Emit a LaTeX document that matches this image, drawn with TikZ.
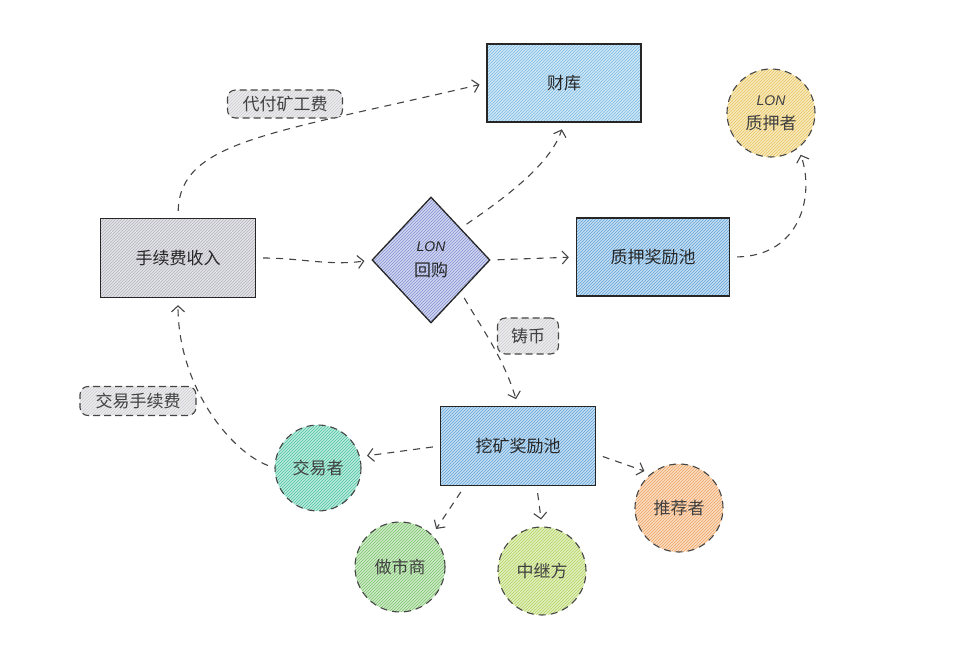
\documentclass[tikz,border=0pt]{standalone}
\usepackage{fontspec}
\setmainfont{Noto Sans CJK SC}
\newfontfamily\lonfont{Liberation Sans}
\usetikzlibrary{shapes.geometric,patterns,arrows.meta}

\definecolor{inkgray}{HTML}{454545}
\definecolor{feegray}{HTML}{B4B4C0}
\definecolor{taggray}{HTML}{CDCDD2}
\definecolor{vaultblue}{HTML}{7DBCE6}
\definecolor{buyblue}{HTML}{8490D4}
\definecolor{poolblue}{HTML}{62A6DA}
\definecolor{stakeyellow}{HTML}{EAC55C}
\definecolor{tradeteal}{HTML}{4CC6A4}
\definecolor{makergreen}{HTML}{7CC66C}
\definecolor{relaylime}{HTML}{B2D45C}
\definecolor{referorange}{HTML}{F0A460}

\newcommand{\lontext}{{\lonfont\itshape\fontsize{14}{16}\selectfont LON}}

\begin{document}
\begin{tikzpicture}[x=1pt,y=1pt,
  hatch/.style={preaction={fill=#1!38}, pattern=north east lines, pattern color=#1},
  box/.style={draw=black!85, line width=1.3pt, minimum width=155pt, minimum height=79pt,
    text=black!85, font=\fontsize{17}{20}\selectfont},
  role/.style={circle, draw=inkgray, line width=1.1pt, dash pattern=on 7pt off 5pt,
    minimum size=88pt, inner sep=0pt, text=black!75, font=\fontsize{17}{24}\selectfont, align=center},
  tag/.style={draw=inkgray, line width=1.1pt, dash pattern=on 7pt off 4pt, rounded corners=8pt,
    hatch=taggray, inner sep=0pt, text=black!75, font=\fontsize{17}{20}\selectfont},
  flow/.style={draw=inkgray, line width=1.1pt, dash pattern=on 7pt off 6pt,
    -{Straight Barb[length=6pt,width=13pt,line width=1.1pt]}, shorten <=7pt, shorten >=7pt}
]
\useasboundingbox (0,0) rectangle (960,656);

% boxes and the buyback diamond
\node[box, hatch=feegray] (fee) at (178,398) {手续费收入};
\node[box, hatch=vaultblue, minimum width=154pt, minimum height=78pt] (vault) at (564,573) {财库};
\node[diamond, draw=black!85, line width=1.3pt, hatch=buyblue, minimum width=118pt, minimum height=126pt,
  inner sep=0pt, align=center, text=black!85, font=\fontsize{17}{25}\selectfont] (buyback) at (431,396)
  {\lontext\\回购};
\node[box, hatch=poolblue, minimum width=153pt, minimum height=78pt] (stakepool) at (653,399) {质押奖励池};
\node[box, hatch=poolblue] (minepool) at (518,210) {挖矿奖励池};

% dashed circles
\node[role, hatch=stakeyellow] (staker) at (771,543) {\lontext\\质押者};
\node[role, hatch=tradeteal, minimum size=86pt] (trader) at (318,188) {交易者};
\node[role, hatch=makergreen, minimum size=90pt] (maker) at (400,89) {做市商};
\node[role, hatch=relaylime] (relayer) at (542,85) {中继方};
\node[role, hatch=referorange] (referrer) at (679,148) {推荐者};

% connectors
\draw[flow] (fee.north) .. controls (180,515) and (270,522) .. (vault.west);
\draw[flow] (fee.east) .. controls (300,398) and (330,390) .. (buyback.west);
\draw[flow] (buyback.north east) .. controls (500,455) and (550,490) .. (vault.south);
\draw[flow] (buyback.east) -- (stakepool.west);
\draw[flow] (stakepool.east) .. controls (800,400) and (815,460) .. (staker.-52);
\draw[flow] (buyback.south east) .. controls (480,330) and (503,300) .. (minepool.north);
\draw[flow] (minepool.west) -- (trader.15);
\draw[flow] (trader.west) .. controls (230,205) and (178,270) .. (fee.south);
\draw[flow] (minepool.-143) -- (maker.45);
\draw[flow] (minepool.-65) -- (relayer.north);
\draw[flow] (minepool.-6) -- (referrer.129);

% labels on the connectors
\node[tag, minimum width=115pt, minimum height=28pt] (gaslabel) at (285,552) {代付矿工费};
\node[tag, minimum width=61pt, minimum height=36pt] (mintlabel) at (528,320) {铸币};
\node[tag, minimum width=116pt, minimum height=29pt] (feelabel) at (138,255) {交易手续费};
\end{tikzpicture}
\end{document}
